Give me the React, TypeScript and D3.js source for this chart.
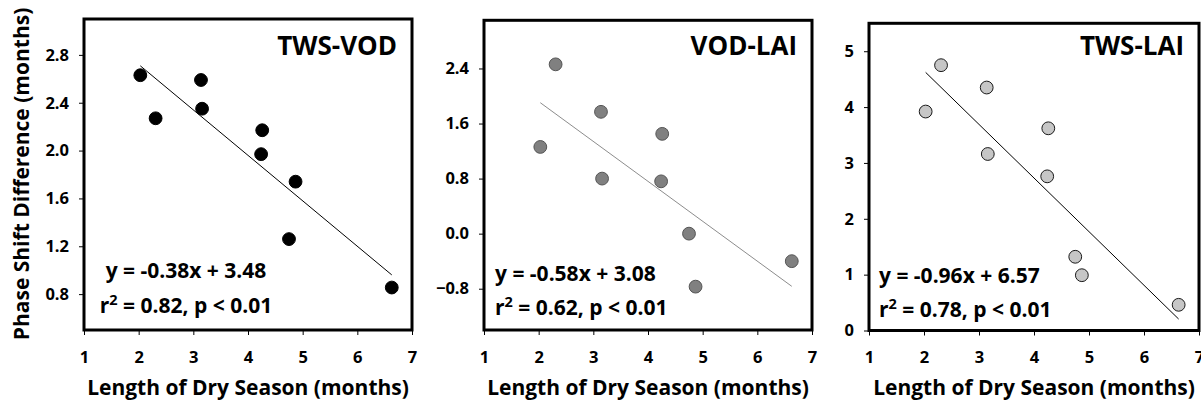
import React, { useEffect, useRef } from "react";
import * as d3 from "d3";

// ---- data ----
const dryLength = [2.03, 2.31, 3.14, 3.16, 4.26, 4.24, 4.75, 4.87, 6.63];
const twsVod = [2.63, 2.27, 2.59, 2.35, 2.17, 1.97, 1.26, 1.74, 0.855];
const vodLai = [1.26, 2.46, 1.77, 0.8, 1.45, 0.76, 0.0, -0.77, -0.4];
const twsLai = [3.92, 4.75, 4.35, 3.16, 3.62, 2.76, 1.32, 0.99, 0.46];
const titles = ["TWS-VOD", "VOD-LAI", "TWS-LAI"];
const slopes = [-0.38, -0.58, -0.96];
const intercepts = [3.48, 3.08, 6.57];
const rSquared = [0.82, 0.62, 0.78];
const xTicks = [1, 2, 3, 4, 5, 6, 7];
const yTicks1 = [0.8, 1.2, 1.6, 2.0, 2.4, 2.8];
const yTicks2 = [-0.8, 0.0, 0.8, 1.6, 2.4];
const yTicks3 = [0, 1, 2, 3, 4, 5];
const xDomain = [1, 7];
const yDomain1 = [0.5, 3.1];
const yDomain2 = [-1.4, 3.1];
const yDomain3 = [0, 5.5];
const xLabel = "Length of Dry Season (months)";
const yLabel = "Phase Shift Difference (months)";

const series = [twsVod, vodLai, twsLai];
const yTickSets = [yTicks1, yTicks2, yTicks3];
const yDomains = [yDomain1, yDomain2, yDomain3];

// ---- layout / styles ----
const FONT = "'Open Sans', Lato, sans-serif";
const layout = [
  { left: 84, right: 412, top: 19, bottom: 330, fill: "#000", stroke: "#000", line: "#000", lineW: 1, eqX: 186, eqAnchor: "middle", eqY1: 278, eqY2: 313, yFmt: ".1f" },
  { left: 484, right: 812, top: 20.3, bottom: 330, fill: "#808080", stroke: "#555", line: "#666", lineW: 0.75, eqX: 495, eqAnchor: "start", eqY1: 281, eqY2: 315, yFmt: ".1f" },
  { left: 869, right: 1199, top: 23.3, bottom: 330.5, fill: "#c6c6c6", stroke: "#1a1a1a", line: "#000", lineW: 1, eqX: 879, eqAnchor: "start", eqY1: 283, eqY2: 317, yFmt: "d" },
];

export default function App() {
  const ref = useRef<SVGSVGElement | null>(null);

  useEffect(() => {
    const svg = d3.select(ref.current);
    svg.selectAll("*").remove();

    layout.forEach((L, i) => {
      const x = d3.scaleLinear().domain(xDomain).range([L.left, L.right]);
      const y = d3.scaleLinear().domain(yDomains[i]).range([L.bottom, L.top]);
      const g = svg.append("g");

      // y axis ticks
      const ya = d3
        .axisLeft(y)
        .tickValues(yTickSets[i])
        .tickSize(5)
        .tickPadding(10)
        .tickFormat(d3.format(L.yFmt) as any);
      const yg = g.append("g").attr("transform", `translate(${L.left},0)`).call(ya);
      yg.select(".domain").remove();
      yg.selectAll("line").attr("stroke", "#000").attr("stroke-width", 1);
      yg.selectAll("text")
        .attr("font-family", FONT)
        .attr("font-weight", "bold")
        .attr("font-size", 16.5)
        .attr("fill", "#000");

      // x axis ticks
      const xa = d3
        .axisBottom(x)
        .tickValues(xTicks)
        .tickSize(5)
        .tickPadding(16)
        .tickFormat(d3.format("d") as any);
      const xg = g.append("g").attr("transform", `translate(0,${L.bottom})`).call(xa);
      xg.select(".domain").remove();
      xg.selectAll("line").attr("stroke", "#000").attr("stroke-width", 1);
      xg.selectAll("text")
        .attr("font-family", FONT)
        .attr("font-weight", "bold")
        .attr("font-size", 16.5)
        .attr("fill", "#000");

      // frame
      g.append("rect")
        .attr("x", L.left)
        .attr("y", L.top)
        .attr("width", L.right - L.left)
        .attr("height", L.bottom - L.top)
        .attr("fill", "none")
        .attr("stroke", "#000")
        .attr("stroke-width", 3);

      // trend line
      const xmin = d3.min(dryLength) as number;
      const xmax = d3.max(dryLength) as number;
      const lineGen = d3
        .line<number>()
        .x((d) => x(d))
        .y((d) => y(slopes[i] * d + intercepts[i]));
      g.append("path")
        .attr("d", lineGen([xmin, xmax]))
        .attr("fill", "none")
        .attr("stroke", L.line)
        .attr("stroke-width", L.lineW);

      // points
      g.selectAll("circle.pt")
        .data(series[i])
        .enter()
        .append("circle")
        .attr("class", "pt")
        .attr("cx", (_d, j) => x(dryLength[j]))
        .attr("cy", (d) => y(d))
        .attr("r", 6.4)
        .attr("fill", L.fill)
        .attr("stroke", L.stroke)
        .attr("stroke-width", 1);

      // title
      g.append("text")
        .attr("x", L.right - 15)
        .attr("y", 55)
        .attr("text-anchor", "end")
        .attr("font-family", FONT)
        .attr("font-weight", "bold")
        .attr("font-size", 26)
        .attr("fill", "#000")
        .text(titles[i]);

      // equation
      const sign = intercepts[i] >= 0 ? "+" : "-";
      g.append("text")
        .attr("x", L.eqX)
        .attr("y", L.eqY1)
        .attr("text-anchor", L.eqAnchor)
        .attr("font-family", FONT)
        .attr("font-weight", "bold")
        .attr("font-size", 21)
        .attr("fill", "#000")
        .text(`y = ${slopes[i].toFixed(2)}x ${sign} ${Math.abs(intercepts[i]).toFixed(2)}`);

      const t2 = g
        .append("text")
        .attr("x", L.eqX)
        .attr("y", L.eqY2)
        .attr("text-anchor", L.eqAnchor)
        .attr("font-family", FONT)
        .attr("font-weight", "bold")
        .attr("font-size", 21)
        .attr("fill", "#000");
      t2.append("tspan").text("r");
      t2.append("tspan").attr("dy", -8).attr("font-size", 14.5).text("2");
      t2.append("tspan").attr("dy", 8).text(` = ${rSquared[i].toFixed(2)}, p < 0.01`);

      // x label
      g.append("text")
        .attr("x", (L.left + L.right) / 2)
        .attr("y", 395)
        .attr("text-anchor", "middle")
        .attr("font-family", FONT)
        .attr("font-weight", "bold")
        .attr("font-size", 21)
        .attr("fill", "#000")
        .text(xLabel);
    });

    // y label
    svg
      .append("text")
      .attr("transform", `translate(28.5,174) rotate(-90)`)
      .attr("text-anchor", "middle")
      .attr("font-family", FONT)
      .attr("font-weight", "bold")
      .attr("font-size", 21)
      .attr("fill", "#000")
      .text(yLabel);
  }, []);

  return (
    <svg
      ref={ref}
      width={1201}
      height={402}
      style={{ position: "absolute", left: 0, top: 0, background: "#fff" }}
    />
  );
}
